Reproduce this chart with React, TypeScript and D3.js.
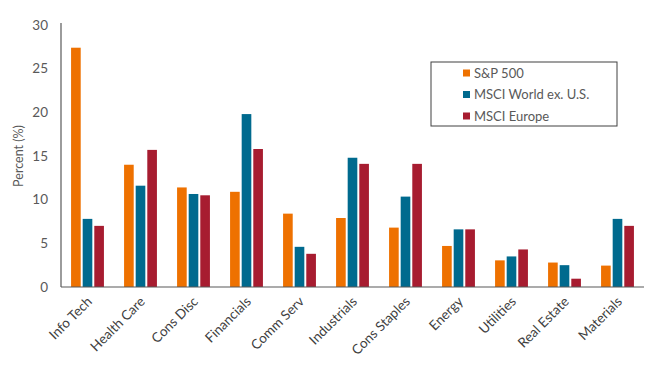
import React from "react";
import * as d3 from "d3";

const categories = ["Info Tech", "Health Care", "Cons Disc", "Financials", "Comm Serv", "Industrials", "Cons Staples", "Energy", "Utilities", "Real Estate", "Materials"];
const seriesNames = ["S&P 500", "MSCI World ex. U.S.", "MSCI Europe"];
const sp500 = [27.4, 14.0, 11.4, 10.9, 8.4, 7.9, 6.8, 4.7, 3.05, 2.8, 2.45];
const worldExUS = [7.8, 11.6, 10.65, 19.8, 4.6, 14.8, 10.35, 6.6, 3.5, 2.5, 7.8];
const europe = [7.0, 15.7, 10.5, 15.8, 3.8, 14.1, 14.1, 6.6, 4.3, 0.95, 7.0];
const yTicks = [0, 5, 10, 15, 20, 25, 30];
const colors = ["#EE7100", "#006A8E", "#A71C30"];

const W = 660, H = 375;
const left = 61, right = 644, top = 25, bottom = 287;
const font = "Lato, 'Open Sans', sans-serif";
const textColor = "#595959";

export default function App() {
  const series = [sp500, worldExUS, europe];
  const x = d3.scaleBand<string>().domain(categories).range([left, right]).paddingInner(0.38).paddingOuter(0.19);
  const xs = d3.scaleBand<number>().domain([0, 1, 2]).range([0, x.bandwidth()]).paddingInner(0.17);
  const y = d3.scaleLinear().domain([0, 30]).range([bottom, top]);

  return (
    <svg width={W} height={H} style={{ position: "absolute", left: 0, top: 0, background: "#fff" }} fontFamily={font}>
      {categories.map((c, i) =>
        series.map((s, k) => (
          <rect key={c + k} x={(x(c) as number) + (xs(k) as number)} y={y(s[i])} width={xs.bandwidth()} height={y(0) - y(s[i])} fill={colors[k]} />
        ))
      )}
      <line x1={left} x2={left} y1={top - 2} y2={bottom} stroke={textColor} strokeWidth={1.2} />
      <line x1={left} x2={right} y1={bottom} y2={bottom} stroke={textColor} strokeWidth={1.2} />
      {yTicks.map((t) => (
        <text key={t} x={48} y={y(t)} dy="0.35em" textAnchor="end" fontSize={13.5} fill={textColor}>{t}</text>
      ))}
      <text transform={`translate(23,${(top + bottom) / 2}) rotate(-90)`} textAnchor="middle" fontSize={12.5} fill={textColor}>Percent (%)</text>
      {categories.map((c) => {
        const cx = (x(c) as number) + x.bandwidth() / 2 + 2;
        return (
          <text key={c} transform={`translate(${cx},${bottom + 12}) rotate(-45)`} textAnchor="end" dy="0.35em" fontSize={13.5} fill="#404040">{c}</text>
        );
      })}
      <rect x={431} y={62} width={186} height={64} fill="#fff" stroke="#404040" strokeWidth={1} />
      {seriesNames.map((n, k) => (
        <g key={n} transform={`translate(463,${73 + k * 21.5})`}>
          <rect x={0} y={-3.5} width={7} height={7} fill={colors[k]} />
          <text x={11} y={0} dy="0.35em" fontSize={13} fill={textColor}>{n}</text>
        </g>
      ))}
    </svg>
  );
}
